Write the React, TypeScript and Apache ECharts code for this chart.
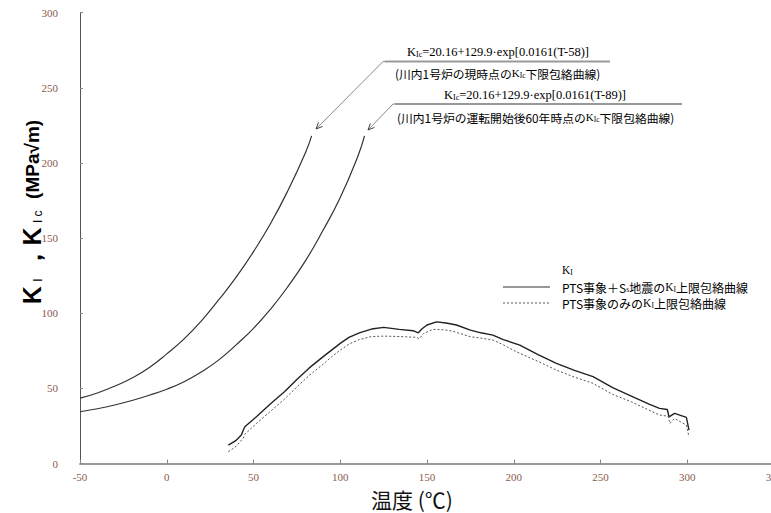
import React, { useEffect, useRef } from "react";
import * as echarts from "echarts";

// K_Ic lower-bound curve, current state (T-58)
const kicNowT = [-50, -40, -30, -20, -10, 0, 10, 20, 30, 40, 50, 60, 70, 80, 83.5];
const kicNowV = [43.5, 47, 51.5, 57, 64, 73, 83, 95, 109, 124, 141, 160, 182, 207, 218];

// K_Ic lower-bound curve, 60 years after start of operation (T-89)
const kic60T = [-50, -40, -30, -20, -10, 0, 10, 20, 30, 40, 50, 60, 70, 80, 90, 100, 110, 114];
const kic60V = [34.5, 36.5, 39, 42, 45.5, 49.5, 54.5, 61, 69, 79, 90, 103, 118, 135, 155, 177, 204, 218];

// K_I upper envelope, PTS + Ss earthquake
const kiPtsSsT = [35.5, 40, 43, 44, 45, 52, 60, 68, 75, 82, 90, 95, 100, 105, 111, 118, 125, 134, 142, 145, 147, 150, 155.5, 161, 167, 175, 181, 188, 194, 203.5, 214, 224.6, 235, 245.7, 257, 268.7, 278, 284, 288.5, 289.5, 292.7, 299.5, 301];
const kiPtsSsV = [12.3, 15.5, 19, 22, 24.5, 31.5, 40, 48, 56, 63.5, 71, 75.5, 80, 84, 87, 89.5, 90.6, 89.3, 88.4, 87, 89.5, 92.2, 94.3, 93.5, 92.2, 88.8, 87, 85.5, 82.5, 78.8, 72.5, 66.7, 62, 57.8, 50.5, 44.4, 39.5, 36.7, 36, 31.1, 33.4, 30.7, 22.3];

// K_I upper envelope, PTS only
const kiPtsT = [35.5, 40, 44, 45, 52, 60, 68, 75, 82, 90, 95, 100, 105, 111, 118, 125, 135, 144, 145.5, 148, 153.5, 160, 165, 175, 181, 188, 194, 201.5, 214, 224.6, 235, 245.7, 257, 268, 278, 284, 289, 290, 292.7, 299.5, 301];
const kiPtsV = [7.9, 11.5, 16.8, 19.5, 27, 35, 43, 51, 58.5, 66, 71, 75.5, 79.5, 82.5, 84.5, 84.8, 84.5, 84, 83, 86.5, 89.3, 89, 88, 84.4, 83.5, 82.2, 79, 74.4, 68, 62.2, 57.5, 53.4, 46, 41, 35.5, 32.3, 31.5, 26.7, 30, 25.6, 17.8];

const xTicks = { min: -50, max: 350, interval: 50 };
const yTicks = { min: 0, max: 300, interval: 50 };

const zip = (t: number[], v: number[]) => t.map((x, i) => [x, v[i]]);

function arrowHead(tx: number, ty: number, fx: number, fy: number, len = 7, ang = 0.42) {
  const dx = fx - tx;
  const dy = fy - ty;
  const d = Math.hypot(dx, dy);
  const ux = dx / d;
  const uy = dy / d;
  const rot = (a: number) => [
    tx + len * (ux * Math.cos(a) - uy * Math.sin(a)),
    ty + len * (ux * Math.sin(a) + uy * Math.cos(a)),
  ];
  return [rot(ang), [tx, ty], rot(-ang)];
}

const labelColor = "#8b5a4b";
const annoColor = "#6b5548";
const jpFont = "'Noto Sans CJK JP', sans-serif";
const serif = "'Liberation Serif', 'DejaVu Serif', serif";
const sans = "'Liberation Sans', sans-serif";

export default function App() {
  const ref = useRef<HTMLDivElement>(null);
  useEffect(() => {
    if (!ref.current) return;
    const chart = echarts.init(ref.current, undefined, { renderer: "svg" });

    const subRich = {
      k: { fontSize: 12.5, fontFamily: serif, color: annoColor },
      s: { fontSize: 8, fontFamily: serif, color: annoColor, padding: [4, 0, 0, 0] },
    };
    const jpRich = {
      j: { fontSize: 11.8, fontFamily: jpFont, color: annoColor },
      o: { fontSize: 11.8, fontFamily: jpFont, color: "#b07a3a" },
      k: { fontSize: 11, fontFamily: serif, color: annoColor },
      s: { fontSize: 7.5, fontFamily: serif, color: annoColor, padding: [4, 0, 0, 0] },
    };
    const legRich = {
      t: { fontSize: 12, fontFamily: jpFont, color: "#4a4040" },
      o: { fontSize: 12, fontFamily: jpFont, color: "#b07a3a" },
      k: { fontSize: 11.5, fontFamily: serif, color: "#4a4040" },
      s: { fontSize: 7.5, fontFamily: serif, color: "#4a4040", padding: [5, 0, 0, 0] },
    };

    const option: any = {
      animation: false,
      backgroundColor: "#ffffff",
      grid: { left: 80, top: 12.6, width: 694, height: 451, containLabel: false, outerBoundsMode: "none" },
      xAxis: {
        type: "value",
        ...xTicks,
        axisLine: { show: true, onZero: false, lineStyle: { color: "#9a9a9a", width: 2 } },
        axisTick: { show: true, inside: true, length: 4, lineStyle: { color: "#888" } },
        splitLine: { show: false },
        axisLabel: { color: labelColor, fontFamily: serif, fontSize: 11, margin: 8, showMinLabel: true, showMaxLabel: true },
      },
      yAxis: {
        type: "value",
        ...yTicks,
        axisLine: { show: true, onZero: false, lineStyle: { color: "#555", width: 1 } },
        axisTick: { show: true, inside: true, length: 3, lineStyle: { color: "#888" } },
        splitLine: { show: false },
        axisLabel: { color: labelColor, fontFamily: serif, fontSize: 11, margin: 22 },
      },
      series: [
        { type: "line", data: zip(kicNowT, kicNowV), showSymbol: false, smooth: true, lineStyle: { color: "#333", width: 1.2 } },
        { type: "line", data: zip(kic60T, kic60V), showSymbol: false, smooth: true, lineStyle: { color: "#333", width: 1.2 } },
        { type: "line", data: zip(kiPtsSsT, kiPtsSsV), showSymbol: false, lineStyle: { color: "#222", width: 1.4 } },
        { type: "line", data: zip(kiPtsT, kiPtsV), showSymbol: false, lineStyle: { color: "#555", width: 1, type: [2, 2] } },
      ],
      graphic: [
        // y-axis name
        {
          type: "text",
          x: 32,
          y: 212,
          rotation: Math.PI / 2,
          style: {
            text: "{k|K}{s| I}{k| ，K}{s| I c}{u|  (MPa√m)}",
            align: "center",
            verticalAlign: "middle",
            rich: {
              k: { fontSize: 25, fontFamily: sans, fontWeight: "bold", color: "#111" },
              s: { fontSize: 12, fontFamily: sans, color: "#111", padding: [12, 1, 0, 1] },
              u: { fontSize: 19, fontFamily: sans, fontWeight: "bold", color: "#111" },
            },
          },
        },
        // x-axis name
        {
          type: "text",
          x: 412,
          y: 499,
          style: { text: "温度 (℃)", align: "center", verticalAlign: "middle", fontSize: 21, fontFamily: jpFont, fill: "#111" },
        },
        // annotation 1
        { type: "polyline", shape: { points: [[610, 61.5], [383, 61.5], [316, 129]] }, style: { stroke: "#888", lineWidth: 1, fill: null } },
        { type: "line", shape: { x1: 385, y1: 61.5, x2: 610, y2: 61.5 }, style: { stroke: "#999", lineWidth: 2 } },
        { type: "polyline", shape: { points: arrowHead(316, 129, 383, 61.5) }, style: { stroke: "#444", lineWidth: 1, fill: null } },
        {
          type: "text",
          x: 498,
          y: 52,
          style: { text: "{k|K}{s|Ic}{k|=20.16+129.9·exp[0.0161(T-58)]}", align: "center", verticalAlign: "middle", rich: subRich },
        },
        {
          type: "text",
          x: 395,
          y: 73,
          style: { text: "{j|(川内1号炉の}{o|現時点}{j|の}{k|K}{s|Ic}{j|下限}{o|包絡}{j|曲線)}", align: "left", verticalAlign: "middle", rich: jpRich },
        },
        // annotation 2
        { type: "polyline", shape: { points: [[682, 104], [393, 104], [368, 130]] }, style: { stroke: "#888", lineWidth: 1, fill: null } },
        { type: "line", shape: { x1: 395, y1: 104, x2: 682, y2: 104 }, style: { stroke: "#999", lineWidth: 2 } },
        { type: "polyline", shape: { points: arrowHead(368, 130, 393, 104) }, style: { stroke: "#444", lineWidth: 1, fill: null } },
        {
          type: "text",
          x: 535,
          y: 95,
          style: { text: "{k|K}{s|Ic}{k|=20.16+129.9·exp[0.0161(T-89)]}", align: "center", verticalAlign: "middle", rich: subRich },
        },
        {
          type: "text",
          x: 397,
          y: 117,
          style: { text: "{j|(川内1号炉の}{o|運転開始}{j|後60年時点の}{k|K}{s|Ic}{j|下限}{o|包絡}{j|曲線)}", align: "left", verticalAlign: "middle", rich: jpRich },
        },
        // legend
        {
          type: "text",
          x: 562,
          y: 270,
          style: { text: "{k|K}{s|I}", align: "left", verticalAlign: "middle", rich: legRich },
        },
        { type: "line", shape: { x1: 503, y1: 287, x2: 550, y2: 287 }, style: { stroke: "#333", lineWidth: 1.2 } },
        {
          type: "text",
          x: 562,
          y: 287,
          style: { text: "{t|PTS}{o|事象}{t|＋S}{s|s}{o|地震}{t|の}{k|K}{s|I}{o|上限}{t|包絡}{o|曲}{t|線}", align: "left", verticalAlign: "middle", rich: legRich },
        },
        { type: "line", shape: { x1: 503, y1: 303, x2: 550, y2: 303 }, style: { stroke: "#555", lineWidth: 1, lineDash: [2, 2] } },
        {
          type: "text",
          x: 562,
          y: 303,
          style: { text: "{t|PTS}{o|事象}{t|のみの}{k|K}{s|I}{o|上限}{t|包絡}{o|曲}{t|線}", align: "left", verticalAlign: "middle", rich: legRich },
        },
      ],
    };
    chart.setOption(option);
    return () => chart.dispose();
  }, []);
  return <div ref={ref} style={{ width: 771, height: 513, position: "absolute", left: 0, top: 0 }} />;
}
